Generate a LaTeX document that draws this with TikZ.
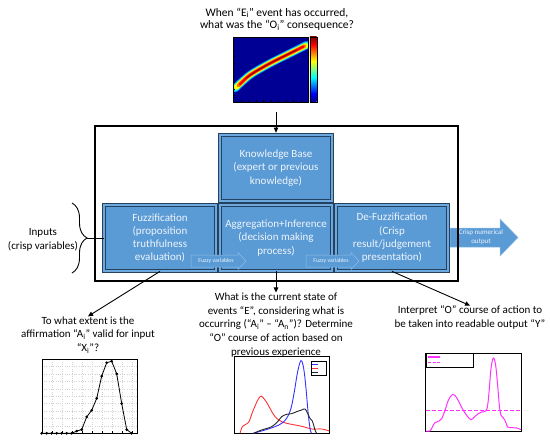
\documentclass[tikz,border=0pt]{standalone}
\usepackage{fontspec}
\setmainfont{Carlito}
\usetikzlibrary{decorations.pathreplacing,arrows.meta}
\definecolor{boxfill}{HTML}{5B9BD5}
\definecolor{boxstrip}{HTML}{6DA8DE}
\definecolor{boxline}{HTML}{24425F}
\definecolor{boxtext}{HTML}{EEF4FB}
\definecolor{arrfill}{HTML}{5B9BD5}
\definecolor{arredge}{HTML}{8DBCE8}
\definecolor{jA}{rgb}{0,0,0.58}
\definecolor{jB}{rgb}{0,0,1}
\definecolor{jC}{rgb}{0,1,1}
\definecolor{jD}{rgb}{1,1,0}
\definecolor{jE}{rgb}{1,0,0}
\definecolor{jF}{rgb}{0.5,0,0}
\definecolor{mag}{HTML}{FF33FF}
\pgfdeclareverticalshading{jet}{100bp}{color(0bp)=(jA); color(25bp)=(jA); color(31.25bp)=(jB); color(43.75bp)=(jC); color(56.25bp)=(jD); color(68.75bp)=(jE); color(75bp)=(jF); color(100bp)=(jF)}
\newcommand\subi{\textsubscript{i}}
\newcommand\subn{\textsubscript{n}}
\begin{document}
\begin{tikzpicture}[x=1pt,y=-1pt,
  box/.style={draw=boxline, line width=0.9pt, double=boxstrip, double distance=2.4pt,
    fill=boxfill, text=boxtext, align=center, font=\fontsize{11}{13.3}\selectfont,
    minimum width=111.8pt, minimum height=65.8pt, inner sep=1pt},
  txt/.style={align=center, font=\fontsize{11}{13.8}\selectfont, inner sep=0pt},
  conn/.style={draw, line width=0.9pt, -{Triangle[length=5pt,width=4.5pt]}},
  flow/.style={fill=arrfill, draw=arredge, line width=0.5pt},
  flowtxt/.style={text=boxtext, inner sep=0pt, align=center},
  grid/.style={draw=gray!35, line width=0.3pt, dotted}
]
\useasboundingbox (0,0) rectangle (550,447);

% ---------- top heat map ----------
\node[minimum width=92pt, minimum height=78pt, inner sep=0pt] (hm) at (276,73) {};
\begin{scope}[xshift=220pt,yshift=-30pt,x=0.3333pt,y=-0.3333pt]
  \fill[jA] (40,20) rectangle (265,215);
  \begin{scope}
    \clip (40,20) rectangle (265,215);
    \draw[line width=8pt, color={rgb,1:red,0;green,0.6;blue,1}, line cap=round] plot[smooth] coordinates {(45,175) (90,135) (150,100) (200,75) (260,45)};
    \draw[line width=6.3pt, color={rgb,1:red,0.3;green,1;blue,0.7}, line cap=round] plot[smooth] coordinates {(47,173) (90,135) (150,100) (200,75) (259,46)};
    \draw[line width=5pt, jD, line cap=round] plot[smooth] coordinates {(50,171) (90,135) (150,100) (200,75) (257,47)};
    \draw[line width=3.6pt, color={rgb,1:red,1;green,0.45;blue,0}, line cap=round] plot[smooth] coordinates {(55,167) (90,135) (150,100) (200,75) (254,48)};
    \draw[line width=2.3pt, jE, line cap=round] plot[smooth] coordinates {(60,163) (90,135) (150,100) (200,75) (250,50)};
    \draw[line width=0.9pt, jF, line cap=round] plot[smooth] coordinates {(80,144) (110,123) (150,100) (190,80) (230,60)};
  \end{scope}
  \draw[line width=0.3pt] (40,20) rectangle (265,215);
  \foreach \t in {40,62.5,...,265} \draw[line width=0.3pt] (\t,215) -- (\t,211);
  \foreach \t in {20,39.5,...,215} \draw[line width=0.3pt] (40,\t) -- (44,\t);
  \shade[shading=jet] (270,20) rectangle (290,215);
  \draw[line width=0.3pt] (270,20) rectangle (290,215);
\end{scope}

\node[txt, font=\fontsize{11.5}{12.3}\selectfont] (toptext) at (277,19) {When “E\subi” event has occurred,\\what was the “O\subi” consequence?};

% ---------- crisp output arrow (behind frame) ----------
\fill[flow] (450,228) -- (500,228) -- (500,219) -- (518,237.5) -- (500,256) -- (500,247) -- (450,247) -- cycle;
\node[flowtxt, font=\fontsize{7}{9}\selectfont] (crisp) at (481,237.5) {Crisp numerical\\output};

% ---------- system frame ----------
\draw[line width=1.2pt] (95,126) rectangle (458,281);

% ---------- boxes ----------
\node[box] (kb) at (276,168) {Knowledge Base\\(expert or previous\\knowledge)};
\node[box] (fuzz) at (160,238) {Fuzzification\\(proposition\\truthfulness\\evaluation)};
\node[box] (agg) at (276,238) {Aggregation+Inference\\(decision making\\process)};
\node[box] (defuzz) at (392,238) {De-Fuzzification\\(Crisp\\result/judgement\\presentation)};

% ---------- fuzzy variable arrows ----------
\fill[flow] (191,255) -- (238,255) -- (238,252.5) -- (246,261) -- (238,269.5) -- (238,267) -- (191,267) -- cycle;
\node[flowtxt, font=\fontsize{5.8}{7}\selectfont] (fv1) at (216,261) {Fuzzy variables};
\fill[flow] (306,255) -- (351,255) -- (351,252.5) -- (359,261) -- (351,269.5) -- (351,267) -- (306,267) -- cycle;
\node[flowtxt, font=\fontsize{5.8}{7}\selectfont] (fv2) at (331,261) {Fuzzy variables};

% ---------- inputs brace ----------
\draw[line width=0.9pt, decorate, decoration={brace, amplitude=15pt}] (72,203) -- (72,273);
\coordinate (bracetip) at (87,238);
\draw[line width=0.9pt] (bracetip) -- (fuzz.west);
\node[txt] (inputs) at (43,240) {Inputs\\(crisp variables)};

% ---------- bottom texts ----------
\node[txt] (lefttext) at (88,335) {To what extent is the\\affirmation “A\subi” valid for input\\“X\subi”?};
\node[txt] (midtext) at (276,325) {What is the current state of\\events “E”, considering what is\\occurring (“A\subi” – “A\subn”)? Determine\\“O” course of action based on\\previous experience};
\node[txt] (righttext) at (470,317.5) {Interpret “O” course of action to\\be taken into readable output “Y”};

% ---------- connectors ----------
\draw[conn, shorten >=2pt] (hm.south) -- (kb.north);
\draw[conn] (agg.south) -- (midtext.north);
\draw[conn] (fuzz.south) -- (lefttext.north);
\draw[conn] (defuzz.south) -- (righttext.north);

% ---------- left plot ----------
\begin{scope}[xshift=41.7pt, yshift=-433.3pt, x=5pt, y=74.3pt]
  \fill[white] (0,0) rectangle (19,1);
  \foreach \i in {2,4,...,18} \draw[grid] (\i,0) -- (\i,1);
  \foreach \v in {0.1,0.2,...,0.9} \draw[grid] (0,\v) -- (19,\v);
  \draw[line width=0.4pt] (0,0) rectangle (19,1);
  \foreach \i in {0,2,...,18} \draw[line width=0.3pt] (\i,0) -- (\i,0.03);
  \draw[line width=0.8pt, mark=*, mark size=0.9pt] plot coordinates {(0,0) (1,0) (2,0) (3,0) (4,0) (5,0) (6,0) (7,0.03) (8,0.05) (9,0.22) (10,0.31) (11,0.47) (12,0.77) (13,0.95) (14,0.97) (15,0.8) (16,0.4) (17,0.05) (18,0)};
\end{scope}

% ---------- middle plot ----------
\begin{scope}[xshift=225pt,yshift=-355pt,x=0.3333pt,y=-0.3333pt]
  \fill[white] (27,5) rectangle (313,235);
  \draw[line width=0.4pt] (27,5) rectangle (313,235);
  \draw[line width=0.9pt, red!80] plot[smooth, tension=0.6] coordinates {(45,235) (52,215) (62,208) (72,200) (85,165) (105,125) (120,135) (135,160) (150,185) (170,200) (190,206) (210,210) (235,215) (260,222) (290,222) (313,228)};
  \draw[line width=0.9pt, blue!80] plot[smooth, tension=0.6] coordinates {(85,235) (120,225) (150,215) (170,205) (185,190) (198,160) (208,110) (218,50) (228,17) (236,40) (243,100) (250,180) (256,225) (260,235)};
  \draw[line width=0.9pt, black!85] plot[smooth, tension=0.6] coordinates {(85,235) (110,225) (140,215) (158,200) (170,185) (185,178) (200,176) (215,170) (230,165) (240,162) (248,175) (255,190) (262,198) (266,210) (270,225) (275,235)};
  \draw[line width=0.4pt, fill=white] (258,18) rectangle (305,62);
  \draw[line width=0.9pt, blue!80] (262,28) -- (280,28);
  \draw[line width=0.9pt, red!80] (262,40) -- (280,40);
  \draw[line width=0.9pt, black!85] (262,52) -- (280,52);
\end{scope}

% ---------- right plot ----------
\begin{scope}[xshift=415pt,yshift=-352pt,x=0.3333pt,y=-0.3333pt]
  \fill[white] (32,5) rectangle (318,237);
  \draw[line width=0.4pt] (32,5) rectangle (318,237);
  \draw[line width=1pt, mag, dashed, dash pattern=on 4pt off 2pt] (32,177) -- (318,177);
  \draw[line width=1pt, mag] plot[smooth, tension=0.6] coordinates {(32,237) (45,237) (52,225) (60,212) (72,207) (80,200) (90,175) (100,145) (112,128) (122,133) (132,150) (142,170) (155,190) (168,203) (178,195) (190,185) (200,180) (212,177) (218,160) (223,110) (228,50) (235,18) (242,40) (248,100) (253,160) (258,190) (265,198) (270,205) (274,215) (278,225) (290,227) (305,228) (318,233)};
  \draw[line width=0.4pt, fill=white] (35,5) rectangle (175,45);
  \draw[line width=1.2pt, mag] (40,15) -- (75,15);
  \draw[line width=1.2pt, mag, dashed, dash pattern=on 3pt off 1.5pt] (40,32) -- (75,32);
\end{scope}
\end{tikzpicture}
\end{document}
